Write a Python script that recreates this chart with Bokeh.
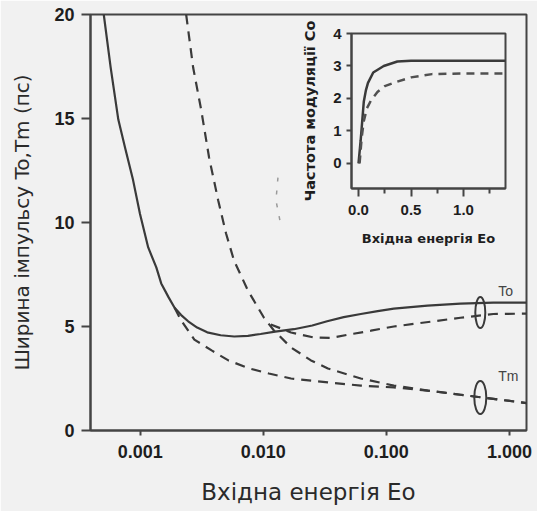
from bokeh.plotting import figure
from bokeh.models import Range1d, FixedTicker, NumeralTickFormatter
from bokeh.layouts import column
from bokeh.embed import file_html
from bokeh.resources import INLINE
from bokeh.core.properties import value

# ---------------- main chart data (Eo, T in ps) ----------------
to_solid_e = [0.000505, 0.000574, 0.000663, 0.000756, 0.000873, 0.000994, 0.00116, 0.00135,
              0.00148, 0.0017, 0.0019, 0.00215, 0.00245, 0.0029, 0.0035, 0.0045, 0.0058,
              0.0075, 0.0095, 0.0125, 0.0177, 0.025, 0.033, 0.045, 0.062, 0.085, 0.115,
              0.216, 0.40, 0.74, 1.38]
to_solid_t = [20.0, 17.47, 14.95, 13.55, 12.05, 10.42, 8.8, 7.84,
              7.07, 6.4, 5.9, 5.55, 5.25, 4.95, 4.72, 4.58, 4.52,
              4.55, 4.64, 4.75, 4.87, 5.05, 5.25, 5.45, 5.6, 5.74, 5.86,
              6.0, 6.1, 6.15, 6.15]

steep_dash_e = [0.00236, 0.00269, 0.00313, 0.00363, 0.0043, 0.00498, 0.00578, 0.0075,
                0.0101, 0.0122, 0.0168, 0.0244, 0.0335, 0.062, 0.115, 0.217, 0.40, 0.74, 1.38]
steep_dash_t = [20.0, 17.45, 15.4, 13.1, 11.06, 9.47, 8.17, 6.73,
                5.43, 4.81, 3.99, 3.37, 2.98, 2.5, 2.16, 1.92, 1.72, 1.52, 1.32]

to_dash_e = [0.0115, 0.0168, 0.0257, 0.035, 0.054, 0.075, 0.115, 0.18, 0.40, 0.74, 1.38]
to_dash_t = [5.1, 4.71, 4.47, 4.45, 4.65, 4.8, 5.0, 5.15, 5.42, 5.6, 5.62]

tm_dash_e = [0.0019, 0.00215, 0.00275, 0.0038, 0.0052, 0.0077, 0.0111, 0.0168,
             0.0335, 0.062, 0.115, 0.217, 0.40, 0.74, 1.38]
tm_dash_t = [5.9, 5.29, 4.37, 3.85, 3.37, 2.98, 2.74, 2.5,
             2.31, 2.16, 2.07, 1.92, 1.72, 1.52, 1.32]

faint_e = [0.01315, 0.01267, 0.0139]
faint_t = [12.16, 11.06, 9.86]

marker_e = [0.58, 0.58]
marker_t = [5.67, 1.59]

curve_label_e = [0.93, 0.98]
curve_label_t = [6.73, 2.64]
curve_labels = ["To", "Tm"]

x_ticks = [0.001, 0.01, 0.1, 1.0]
y_ticks = [0, 5, 10, 15, 20]

# ---------------- inset data (Eo, Co) ----------------
in_solid_e = [0.0, 0.02, 0.035, 0.05, 0.07, 0.09, 0.14, 0.24, 0.37, 0.5, 1.0, 1.4]
in_solid_c = [0.0, 0.7, 1.3, 1.9, 2.25, 2.48, 2.8, 3.0, 3.14, 3.16, 3.16, 3.16]

in_dash_e = [0.01, 0.03, 0.05, 0.08, 0.12, 0.18, 0.25, 0.35, 0.5, 0.7, 1.0, 1.4]
in_dash_c = [0.0, 0.8, 1.3, 1.7, 1.95, 2.2, 2.38, 2.5, 2.65, 2.75, 2.77, 2.77]

in_x_ticks = [0.0, 0.5, 1.0]
in_x_minor = [0.25, 0.75, 1.25]
in_y_ticks = [0, 1, 2, 3, 4]

BG = "#f1f1f1"
INK = "#3a3a3a"
TXT = "#1e1e1e"

# ---------------- main figure ----------------
p = figure(frame_width=436, frame_height=416, x_axis_type="log",
           x_range=Range1d(0.000394, 1.377), y_range=Range1d(0, 20),
           output_backend="svg", toolbar_location=None,
           min_border_left=89, min_border_right=12, min_border_top=14, min_border_bottom=81,
           background_fill_color=BG, border_fill_color=BG,
           outline_line_color="#444444", outline_line_width=2)
p.grid.visible = False

p.line(to_solid_e, to_solid_t, line_color=INK, line_width=2.2)
p.line(steep_dash_e, steep_dash_t, line_color=INK, line_width=2.2, line_dash="10 7")
p.line(to_dash_e, to_dash_t, line_color=INK, line_width=2.2, line_dash="10 7")
p.line(tm_dash_e, tm_dash_t, line_color=INK, line_width=2.2, line_dash="10 7")
p.line(faint_e, faint_t, line_color="#9a9a9a", line_width=1.5, line_dash="4 9")
p.ellipse(x=marker_e, y=marker_t, width=[10, 12], height=[31, 33],
          width_units="screen", height_units="screen",
          fill_color=None, line_color=INK, line_width=2)
p.text(x=curve_label_e, y=curve_label_t, text=curve_labels,
       text_align="center", text_baseline="middle",
       text_font=value("Liberation Sans"), text_font_size="14px", text_color="#444444")

xa = p.xaxis[0]
xa.ticker = FixedTicker(ticks=x_ticks)
xa.formatter = NumeralTickFormatter(format="0.000")
xa.axis_label = "Вхідна енергія Eo"
ya = p.yaxis[0]
ya.ticker = FixedTicker(ticks=y_ticks)
ya.axis_label = "Ширина імпульсу To,Tm (пс)"

for ax in (xa, ya):
    ax.axis_line_color = "#444444"
    ax.axis_line_width = 2
    ax.major_tick_line_color = "#444444"
    ax.major_tick_line_width = 2
    ax.major_tick_in = 0
    ax.minor_tick_line_color = None
    ax.major_label_text_font = "Liberation Sans"
    ax.major_label_text_font_style = "bold"
    ax.major_label_text_font_size = "18px"
    ax.major_label_text_color = TXT
    ax.axis_label_text_font = "DejaVu Sans"
    ax.axis_label_text_font_style = "normal"
    ax.axis_label_text_color = "#2a2a2a"
xa.axis_label_text_font_size = "23px"
ya.axis_label_text_font_size = "20px"
xa.major_tick_out = 5
xa.major_label_standoff = 9
xa.axis_label_standoff = 18
ya.major_tick_out = 9
ya.major_label_standoff = 7
ya.axis_label_standoff = 17

# ---------------- inset figure ----------------
ins = figure(frame_width=154, frame_height=155,
             x_range=Range1d(-0.067, 1.40), y_range=Range1d(-0.77, 4.0),
             output_backend="svg", toolbar_location=None,
             min_border_left=90, min_border_right=10, min_border_top=25, min_border_bottom=67,
             background_fill_color=BG, border_fill_color=BG, border_fill_alpha=0,
             outline_line_color="#444444", outline_line_width=2)
ins.grid.visible = False
ins.line(in_solid_e, in_solid_c, line_color=INK, line_width=2.5)
ins.line(in_dash_e, in_dash_c, line_color="#505050", line_width=2.5, line_dash="8 6")

ixa = ins.xaxis[0]
ixa.ticker = FixedTicker(ticks=in_x_ticks, minor_ticks=in_x_minor)
ixa.formatter = NumeralTickFormatter(format="0.0")
ixa.axis_label = "Вхідна енергія Eo"
iya = ins.yaxis[0]
iya.ticker = FixedTicker(ticks=in_y_ticks)
iya.axis_label = "Частота модуляції Co"
for ax in (ixa, iya):
    ax.axis_line_color = "#444444"
    ax.axis_line_width = 2
    ax.major_tick_line_color = "#444444"
    ax.major_tick_line_width = 2
    ax.major_tick_in = 0
    ax.major_label_text_font = "Liberation Sans"
    ax.major_label_text_font_style = "bold"
    ax.major_label_text_font_size = "15px"
    ax.major_label_text_color = TXT
    ax.axis_label_text_font = "DejaVu Sans"
    ax.axis_label_text_font_style = "bold"
    ax.axis_label_text_color = TXT
ixa.axis_label_text_font_size = "13px"
iya.axis_label_text_font_size = "14.5px"
ixa.major_tick_out = 8
ixa.minor_tick_out = 5
ixa.minor_tick_in = 0
ixa.minor_tick_line_color = "#444444"
ixa.minor_tick_line_width = 2
ixa.major_label_standoff = 8
ixa.axis_label_standoff = 13
iya.minor_tick_line_color = None
iya.major_tick_out = 5
iya.major_label_standoff = 5
iya.axis_label_standoff = 12

ins.styles = {"position": "absolute", "left": "261px", "top": "8px"}

layout = column(p, ins)
open("out.html", "w").write(file_html(layout, INLINE))
